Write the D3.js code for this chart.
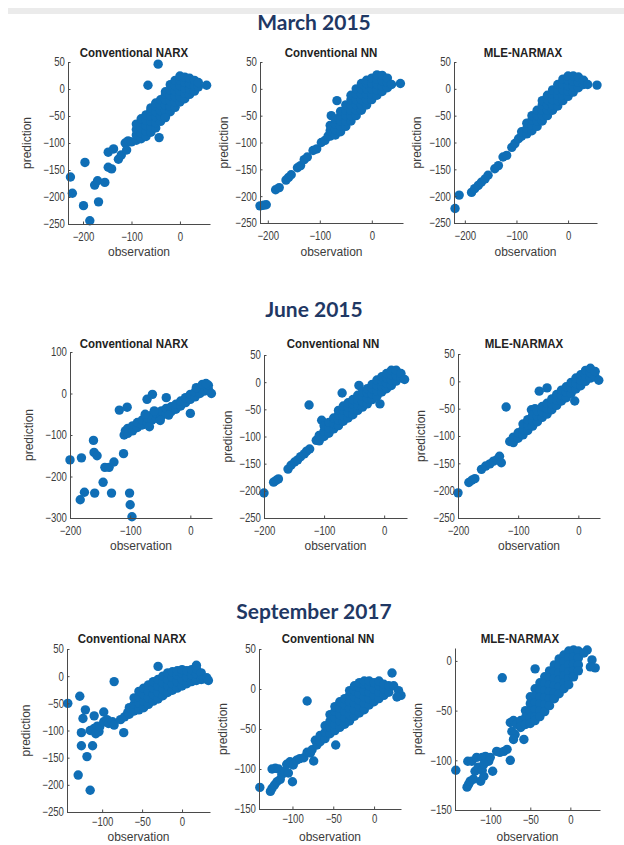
<!DOCTYPE html>
<html><head><meta charset="utf-8">
<script src="https://cdn.jsdelivr.net/npm/d3@7"></script>
<style>body{margin:0;background:#fff;} svg{display:block;}</style>
</head><body>
<script>
// ---------- DATA ----------
const rowTitles = ["March 2015", "June 2015", "September 2017"];
const modelNames = ["Conventional NARX", "Conventional NN", "MLE-NARMAX"];
const xLabel = "observation";
const yLabel = "prediction";

const xTicksRow = [[-200, -100, 0], [-200, -100, 0], [-100, -50, 0]];
const yTicks = [
  [-250, -200, -150, -100, -50, 0, 50], [-250, -200, -150, -100, -50, 0, 50], [-250, -200, -150, -100, -50, 0, 50],
  [-300, -200, -100, 0, 100], [-250, -200, -150, -100, -50, 0, 50], [-250, -200, -150, -100, -50, 0, 50],
  [-250, -200, -150, -100, -50, 0, 50], [-150, -100, -50, 0, 50], [-150, -100, -50, 0]
];
const xDomains = [[-231, 62], [-215, 60], [-221, 56], [-200, 36], [-200, 38], [-200, 36], [-144, 35], [-141, 33], [-144, 37]];
const yDomains = [[-250, 50], [-250, 50], [-250, 50], [-300, 100], [-250, 50], [-250, 50], [-250, 50], [-150, 50], [-150, 13]];

// [observation, prediction]
const narxMar15 = [[-226,-163],[-222,-193],[-199,-216],[-196,-136],[-186,-244],[-176,-178],[-170,-170],[-168,-209],[-155,-173],[-148,-117],[-148,-145],[-141,-148],[-137,-111],[-127,-130],[-121,-122],[-113,-100],[-110,-113],[-107,-96],[-100,-98],
[-90,-95],[-90,-85],[-90,-75],[-90,-65],
[-80,-92],[-80,-82],[-80,-72],[-80,-62],[-80,-55],
[-70,-88],[-70,-78],[-70,-68],[-70,-58],[-70,-48],
[-60,-80],[-60,-70],[-60,-60],[-60,-50],[-60,-40],[-60,-35],
[-50,-72],[-50,-62],[-50,-52],[-50,-42],[-50,-32],[-50,-26],
[-40,-60],[-40,-50],[-40,-40],[-40,-30],[-40,-20],
[-30,-50],[-30,-40],[-30,-30],[-30,-20],[-30,-10],[-30,-5],
[-20,-42],[-20,-32],[-20,-22],[-20,-12],[-20,-2],[-20,8],
[-10,-34],[-10,-24],[-10,-14],[-10,-4],[-10,6],[-10,16],
[0,-24],[0,-14],[0,-4],[0,6],[0,16],[0,24],
[10,-18],[10,-8],[10,2],[10,12],[10,22],
[20,-10],[20,0],[20,10],[20,20],
[30,-4],[30,6],[30,16],[38,4],[38,12],
[-66,7],[-45,46],[-43,-90],[-30,-53],[55,7]];

const nnMar15 = [[-215,-218],[-208,-217],[-203,-216],[-185,-188],[-178,-184],[-165,-170],[-160,-165],[-155,-160],[-143,-147],[-137,-143],[-130,-132],[-124,-127],[-113,-115],[-106,-112],[-97,-100],[-90,-96],[-84,-88],[-78,-50],[-67,-22],
[-80,-88],[-80,-78],[-80,-68],
[-70,-86],[-70,-76],[-70,-66],[-70,-56],
[-60,-80],[-60,-70],[-60,-60],[-60,-50],[-60,-42],
[-50,-70],[-50,-60],[-50,-50],[-50,-40],[-50,-30],
[-40,-60],[-40,-50],[-40,-40],[-40,-30],[-40,-20],[-40,-12],
[-30,-50],[-30,-40],[-30,-30],[-30,-20],[-30,-10],[-30,0],
[-20,-40],[-20,-30],[-20,-20],[-20,-10],[-20,0],[-20,10],
[-10,-30],[-10,-20],[-10,-10],[-10,0],[-10,10],[-10,16],
[0,-20],[0,-10],[0,0],[0,10],[0,20],
[10,-12],[10,-2],[10,8],[10,18],[10,26],
[20,-5],[20,5],[20,15],[20,25],
[30,2],[30,12],[30,20],[38,8],
[55,10]];

const mleMar15 = [[-219,-223],[-211,-198],[-187,-193],[-181,-186],[-174,-180],[-168,-174],[-161,-168],[-155,-161],[-142,-149],[-135,-143],[-126,-127],[-119,-124],[-109,-109],[-103,-102],[-96,-93],
[-90,-88],[-90,-80],
[-80,-84],[-80,-74],[-80,-64],
[-70,-78],[-70,-68],[-70,-58],[-70,-50],
[-60,-70],[-60,-60],[-60,-50],[-60,-40],
[-50,-60],[-50,-50],[-50,-40],[-50,-30],[-50,-22],
[-40,-50],[-40,-40],[-40,-30],[-40,-20],[-40,-12],
[-30,-40],[-30,-30],[-30,-20],[-30,-10],[-30,-2],
[-20,-32],[-20,-22],[-20,-12],[-20,-2],[-20,8],
[-10,-22],[-10,-12],[-10,-2],[-10,8],[-10,18],
[0,-14],[0,-4],[0,6],[0,16],[0,24],
[10,-6],[10,4],[10,14],[10,24],
[20,2],[20,12],[20,22],
[30,8],[30,16],[38,8],
[56,7]];

const narxJun15 = [[-200,-160],[-181,-155],[-183,-256],[-176,-238],[-161,-113],[-160,-142],[-155,-150],[-159,-240],[-145,-214],[-142,-178],[-135,-178],[-131,-240],[-127,-165],[-118,-40],[-105,-33],[-111,-145],[-110,-100],[-108,-90],[-101,-240],[-100,-268],[-97,-297],[-72,-14],[-63,-2],[-40,-10],[0,-48],
[-104,-96],[-104,-84],[-96,-90],[-96,-78],[-88,-82],[-88,-70],[-80,-76],[-80,-64],[-72,-70],[-72,-58],[-64,-64],[-64,-52],[-56,-60],[-56,-48],[-48,-54],[-48,-42],[-40,-48],[-40,-36],[-32,-44],[-32,-32],[-24,-38],[-24,-26],[-16,-30],[-16,-18],[-8,-22],[-8,-10],[0,-14],[0,-2],[8,-8],[8,4],[16,0],[16,12],[24,6],[24,18],[30,10],[30,20],
[-75,-50],[-60,-42],[-68,-80],[-50,-65],[-36,-52],[10,14],[20,22],[26,24],
[35,0]];

const nnJun15 = [[-200,-204],[-184,-184],[-180,-181],[-176,-178],[-160,-160],[-155,-153],[-149,-147],[-144,-143],[-139,-137],[-133,-132],[-129,-127],[-124,-123],[-125,-42],[-113,-107],[-107,-98],[-104,-70],[-70,-20],[-42,-6],[-7,-40],
[-108,-108],[-108,-98],
[-100,-100],[-100,-90],[-100,-80],
[-92,-94],[-92,-84],[-92,-74],
[-84,-86],[-84,-76],[-84,-66],
[-76,-80],[-76,-70],[-76,-60],[-76,-52],
[-68,-72],[-68,-62],[-68,-52],[-68,-44],
[-60,-66],[-60,-56],[-60,-46],[-60,-38],
[-52,-60],[-52,-50],[-52,-40],[-52,-32],
[-44,-52],[-44,-42],[-44,-32],[-44,-24],
[-36,-46],[-36,-36],[-36,-26],[-36,-18],
[-28,-40],[-28,-30],[-28,-20],[-28,-12],
[-20,-32],[-20,-22],[-20,-12],[-20,-4],
[-12,-26],[-12,-16],[-12,-6],[-12,4],
[-4,-18],[-4,-8],[-4,2],[-4,10],
[4,-12],[4,-2],[4,8],[4,16],
[12,-6],[12,4],[12,14],[12,22],
[20,2],[20,12],[20,22],
[28,8],[28,16],
[34,5]];

const mleJun15 = [[-200,-204],[-182,-185],[-177,-181],[-172,-178],[-161,-161],[-154,-155],[-147,-151],[-141,-146],[-135,-143],[-131,-137],[-128,-149],[-120,-47],[-114,-110],[-65,-18],[-52,-12],[-78,-52],[-72,-50],[-6,-36],
[-108,-112],[-108,-102],
[-100,-104],[-100,-94],
[-92,-98],[-92,-88],[-92,-78],
[-84,-90],[-84,-80],[-84,-70],
[-76,-82],[-76,-72],[-76,-62],
[-68,-74],[-68,-64],[-68,-54],
[-60,-66],[-60,-56],[-60,-46],
[-52,-60],[-52,-50],[-52,-40],
[-44,-52],[-44,-42],[-44,-32],
[-36,-44],[-36,-34],[-36,-24],
[-28,-36],[-28,-26],[-28,-16],
[-20,-30],[-20,-20],[-20,-10],
[-12,-22],[-12,-12],[-12,-2],
[-4,-14],[-4,-4],[-4,6],
[4,-8],[4,2],[4,12],
[12,0],[12,10],[12,20],
[20,6],[20,16],[20,24],
[28,8],[28,18],
[34,2]];

const narxSep17 = [[-143,-50],[-128,-37],[-126,-104],[-126,-128],[-124,-78],[-121,-62],[-130,-182],[-119,-148],[-115,-210],[-110,-73],[-115,-100],[-110,-96],[-106,-92],[-112,-128],[-108,-106],[-104,-102],[-103,-93],[-98,-84],[-94,-80],[-98,-66],[-92,-87],[-87,-84],[-85,-90],[-85,-10],[-73,-104],[-77,-80],[-72,-75],[-68,-67],
[-66,-70],[-66,-58],
[-60,-64],[-60,-52],[-60,-40],
[-54,-62],[-54,-50],[-54,-38],[-54,-28],
[-48,-58],[-48,-46],[-48,-34],[-48,-22],
[-42,-52],[-42,-40],[-42,-28],[-42,-16],
[-36,-46],[-36,-34],[-36,-22],[-36,-10],
[-30,-42],[-30,-30],[-30,-18],[-30,-6],
[-24,-36],[-24,-24],[-24,-12],[-24,0],
[-18,-30],[-18,-18],[-18,-6],[-18,6],
[-12,-26],[-12,-14],[-12,-2],[-12,8],
[-6,-22],[-6,-10],[-6,2],[-6,10],
[0,-18],[0,-6],[0,6],[0,12],
[6,-14],[6,-2],[6,10],
[12,-10],[12,2],[12,12],
[18,-8],[18,4],[18,14],
[24,-6],[24,6],
[-30,18],[18,20],[27,-5],[31,-3],[33,-8]];

const nnSep17 = [[-140,-123],[-127,-128],[-125,-124],[-122,-120],[-119,-116],[-115,-113],[-125,-100],[-121,-99],[-117,-100],[-113,-107],[-109,-103],[-105,-105],[-107,-94],[-103,-91],[-99,-95],[-100,-116],[-95,-89],[-91,-87],[-86,-86],[-82,-79],[-78,-80],[-82,-15],[-76,-76],[-74,-90],[-72,-64],[-70,-70],[-47,-70],
[-66,-66],[-66,-58],
[-60,-62],[-60,-54],[-60,-46],
[-54,-56],[-54,-48],[-54,-40],[-54,-32],
[-48,-52],[-48,-44],[-48,-36],[-48,-28],[-48,-22],
[-42,-48],[-42,-40],[-42,-32],[-42,-24],[-42,-16],
[-36,-44],[-36,-36],[-36,-28],[-36,-20],[-36,-12],
[-30,-40],[-30,-32],[-30,-24],[-30,-16],[-30,-8],[-30,-2],
[-24,-34],[-24,-26],[-24,-18],[-24,-10],[-24,-2],[-24,4],
[-18,-30],[-18,-22],[-18,-14],[-18,-6],[-18,2],[-18,8],
[-12,-26],[-12,-18],[-12,-10],[-12,-2],[-12,6],[-12,10],
[-6,-20],[-6,-12],[-6,-4],[-6,4],[-6,10],
[0,-16],[0,-8],[0,0],[0,8],
[6,-12],[6,-4],[6,4],[6,10],
[12,-8],[12,0],[12,6],
[18,-4],[18,4],
[22,20],[24,4],[30,-2],[33,-8],[28,-10]];

const mleSep17 = [[-143,-110],[-129,-127],[-127,-124],[-125,-121],[-121,-119],[-128,-101],[-123,-101],[-119,-111],[-115,-107],[-110,-110],[-117,-97],[-110,-97],[-106,-96],[-100,-97],[-112,-121],[-108,-116],[-102,-101],[-108,-104],[-88,-92],[-92,-91],[-97,-111],[-85,-17],[-83,-91],[-79,-89],[-75,-100],[-75,-62],[-71,-60],[-73,-71],[-69,-74],[-71,-79],[-67,-64],[-62,-67],[-58,-79],[-44,-8],
[-62,-60],[-62,-66],
[-56,-50],[-56,-57],[-56,-64],
[-50,-36],[-50,-43],[-50,-50],[-50,-57],[-50,-63],
[-44,-28],[-44,-35],[-44,-42],[-44,-49],[-44,-56],[-44,-60],
[-38,-22],[-38,-29],[-38,-36],[-38,-43],[-38,-50],[-38,-56],
[-32,-16],[-32,-23],[-32,-30],[-32,-37],[-32,-44],[-32,-51],
[-26,-10],[-26,-17],[-26,-24],[-26,-31],[-26,-38],[-26,-45],
[-20,-4],[-20,-11],[-20,-18],[-20,-25],[-20,-32],[-20,-38],
[-14,2],[-14,-5],[-14,-12],[-14,-19],[-14,-26],[-14,-33],
[-8,6],[-8,-1],[-8,-8],[-8,-15],[-8,-22],[-8,-28],
[-2,10],[-2,3],[-2,-4],[-2,-11],[-2,-18],[-2,-24],
[4,11],[4,4],[4,-3],[4,-10],[4,-16],
[10,10],[10,3],[10,-4],[10,-10],
[21,11],[17,8],[27,1],[31,-7],[25,-6]];

const panelData = [narxMar15, nnMar15, mleMar15, narxJun15, nnJun15, mleJun15, narxSep17, nnSep17, mleSep17];

// ---------- LAYOUT ----------
const W = 624, H = 845;
const boxes = [ // [left, right, top, bottom]
  [68, 210, 62, 224], [260, 403, 62, 223], [454, 597, 62, 223],
  [70, 212, 352, 518], [264, 407, 355, 518], [458, 600, 354, 518],
  [67, 210, 649, 812], [259, 401, 649, 809], [455, 600, 648, 810]
];
const titleX = [134, 331, 523, 134, 333, 524, 132, 328, 520];
const titleBase = [57, 348, 643];
const xLabelBase = [256, 550, 841];
const xTickPad = [8.5, 8.5, 5];
const yLabelOffset = [37, 32, 33];
const rowTitleBase = [29.5, 317, 619];

const dotColor = "#0f6eb6";
const axisColor = "#4a4a4a";
const textColor = "#3c3c3c";
const font = "'Liberation Sans', Arial, sans-serif";

const svg = d3.select("body").append("svg").attr("width", W).attr("height", H);
svg.append("rect").attr("x", 0).attr("y", 0).attr("width", W).attr("height", H).attr("fill", "#fff");
svg.append("rect").attr("x", 8).attr("y", 8).attr("width", W - 8).attr("height", 6).attr("fill", "#ebebeb");

rowTitles.forEach((t, r) => {
  svg.append("text").attr("x", 314).attr("y", rowTitleBase[r])
    .attr("text-anchor", "middle").attr("font-family", "Lato, 'Open Sans', sans-serif")
    .attr("font-weight", 700).attr("font-size", 21).attr("fill", "#1f3864").text(t);
});

panelData.forEach((pts, i) => {
  const r = Math.floor(i / 3), c = i % 3;
  const [L, R, T, B] = boxes[i];
  const x = d3.scaleLinear().domain(xDomains[i]).range([L, R]);
  const y = d3.scaleLinear().domain(yDomains[i]).range([B, T]);
  const g = svg.append("g");

  g.append("g").selectAll("circle").data(pts).join("circle")
    .attr("cx", d => x(d[0])).attr("cy", d => y(d[1])).attr("r", 4.7)
    .attr("fill", dotColor);

  const xa = g.append("g").attr("transform", `translate(0,${B})`)
    .call(d3.axisBottom(x).tickValues(xTicksRow[r]).tickSizeInner(-2.5).tickSizeOuter(0).tickPadding(xTickPad[r]).tickFormat(d3.format("d")));
  const ya = g.append("g").attr("transform", `translate(${L},0)`)
    .call(d3.axisLeft(y).tickValues(yTicks[i]).tickSizeInner(-2.5).tickSizeOuter(0).tickPadding(3.8).tickFormat(d3.format("d")));
  [xa, ya].forEach(a => {
    a.select(".domain").attr("stroke", axisColor).attr("stroke-width", 1);
    a.selectAll(".tick line").attr("stroke", axisColor);
    a.selectAll(".tick text").attr("fill", textColor).attr("font-family", font)
      .attr("font-size", 12).attr("transform", "scale(0.8,1)");
  });

  g.append("text").attr("transform", `translate(${titleX[i]},${titleBase[r]}) scale(0.92,1)`)
    .attr("text-anchor", "middle").attr("font-family", font).attr("font-weight", 700)
    .attr("font-size", 12.5).attr("fill", "#222").text(modelNames[c]);

  g.append("text").attr("transform", `translate(${(L + R) / 2},${xLabelBase[r]}) scale(0.89,1)`)
    .attr("text-anchor", "middle").attr("font-family", font).attr("font-size", 13.5)
    .attr("fill", textColor).text(xLabel);
  g.append("text").attr("transform", `translate(${L - yLabelOffset[c]},${(T + B) / 2}) rotate(-90) scale(0.89,1)`)
    .attr("text-anchor", "middle").attr("font-family", font).attr("font-size", 13.5)
    .attr("fill", textColor).text(yLabel);
});
</script>
</body></html>
